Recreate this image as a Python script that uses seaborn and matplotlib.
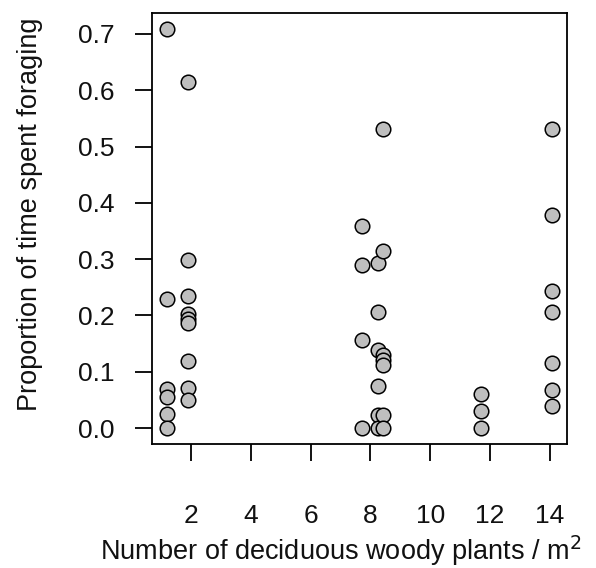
import matplotlib
matplotlib.use("Agg")
import matplotlib.pyplot as plt
import seaborn as sns
import pandas as pd

# Data
x_a = [1.21] * 6
y_a = [0.708, 0.229, 0.070, 0.055, 0.025, 0.0]
x_b = [1.89] * 9
y_b = [0.614, 0.298, 0.235, 0.203, 0.194, 0.186, 0.119, 0.072, 0.049]
x_c = [7.70] * 4
y_c = [0.359, 0.289, 0.156, 0.0]
x_d = [8.26] * 6
y_d = [0.293, 0.207, 0.138, 0.075, 0.024, 0.0]
x_e = [8.43] * 7
y_e = [0.531, 0.314, 0.130, 0.120, 0.112, 0.023, 0.0]
x_f = [11.69] * 3
y_f = [0.061, 0.030, 0.0]
x_g = [14.08] * 7
y_g = [0.531, 0.379, 0.244, 0.206, 0.115, 0.067, 0.040]

xticks = [2, 4, 6, 8, 10, 12, 14]
yticks = [0.0, 0.1, 0.2, 0.3, 0.4, 0.5, 0.6, 0.7]

df = pd.DataFrame({
    "plants": x_a + x_b + x_c + x_d + x_e + x_f + x_g,
    "foraging": y_a + y_b + y_c + y_d + y_e + y_f + y_g,
})

sns.set_style("white")
plt.rcParams["font.family"] = ["Liberation Sans", "DejaVu Sans"]

fig = plt.figure(figsize=(5.96, 5.68), dpi=100)
ax = fig.add_axes([0.2545, 0.2183, 0.6974, 0.7583])

sns.scatterplot(data=df, x="plants", y="foraging", ax=ax, s=110,
                color="#bebebe", edgecolor="black", linewidth=1.1, zorder=3)

ax.set_xlim(0.686, 14.58)
ax.set_ylim(-0.0283, 0.7366)
ax.set_xticks(xticks)
ax.set_xticklabels([str(t) for t in xticks])
ax.set_yticks(yticks)
ax.set_yticklabels([f"{t:.1f}" for t in yticks])

for sp in ax.spines.values():
    sp.set_visible(True)
    sp.set_color("black")
    sp.set_linewidth(1.3)

ax.tick_params(axis="both", which="major", direction="out", length=12,
               width=1.3, color="black", labelsize=19, labelcolor="#111111",
               bottom=True, left=True)
ax.tick_params(axis="x", pad=31)
ax.tick_params(axis="y", pad=15)

ax.set_xlabel("Number of deciduous woody plants / m$^2$", fontsize=19.5,
              color="#111111")
ax.set_ylabel("Proportion of time spent foraging", fontsize=19.5,
              color="#111111")
ax.xaxis.set_label_coords(0.4555, -0.207)
ax.yaxis.set_label_coords(-0.262, 0.534)

fig.savefig("out.png", dpi=100)
